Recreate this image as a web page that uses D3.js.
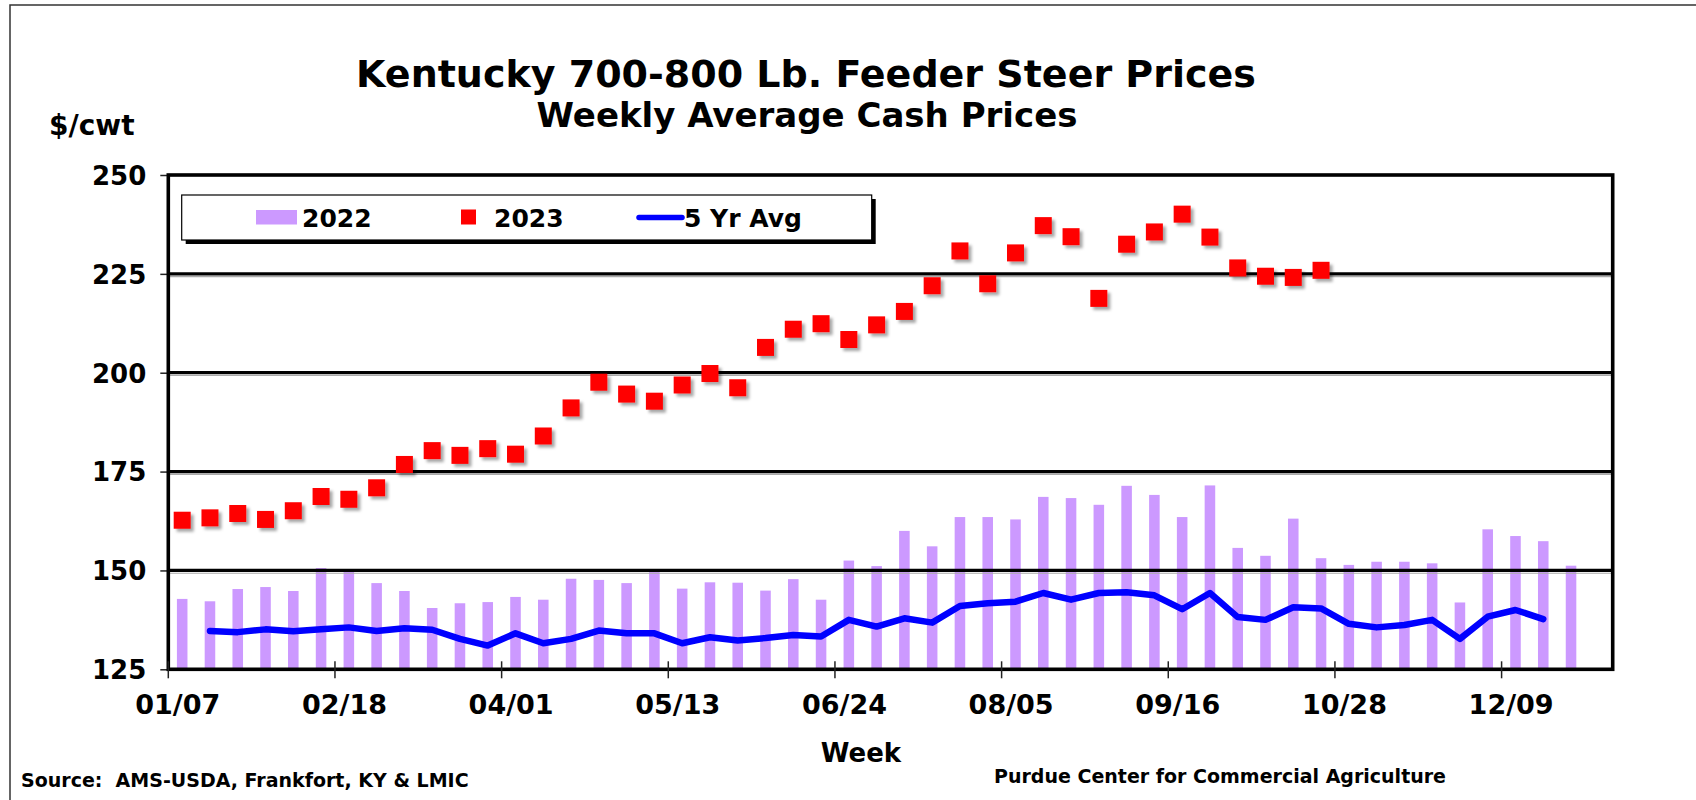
<!DOCTYPE html>
<html>
<head>
<meta charset="utf-8">
<script src="https://cdn.jsdelivr.net/npm/d3@7"></script>
<style>
	body { margin: 0; background: #fff; }
	text { font-family: "DejaVu Sans", Verdana, sans-serif; font-weight: bold; fill: #000; }
</style>
</head>
<body>
<script>
var width = 1696
var height = 800

var weeks = ['01/07','01/14','01/21','01/28','02/04','02/11','02/18','02/25','03/04','03/11',
			'03/18','03/25','04/01','04/08','04/15','04/22','04/29','05/06','05/13','05/20',
			'05/27','06/03','06/10','06/17','06/24','07/01','07/08','07/15','07/22','07/29',
			'08/05','08/12','08/19','08/26','09/02','09/09','09/16','09/23','09/30','10/07',
			'10/14','10/21','10/28','11/04','11/11','11/18','11/25','12/02','12/09','12/16',
			'12/23','12/30']

var weekTicks = ['01/07','02/18','04/01','05/13','06/24','08/05','09/16','10/28','12/09']
var priceTicks = [125, 150, 175, 200, 225, 250]

var prices2022 = [142.8, 142.2, 145.3, 145.8, 144.8, 150.6, 150.1, 146.8, 144.8, 140.5,
				141.7, 142.0, 143.3, 142.6, 147.9, 147.6, 146.8, 149.7, 145.4, 147.0,
				146.9, 144.9, 147.8, 142.6, 152.5, 151.1, 160.0, 156.1, 163.5, 163.5,
				162.9, 168.6, 168.3, 166.6, 171.4, 169.1, 163.5, 171.5, 155.7, 153.7,
				163.1, 153.1, 151.4, 152.2, 152.2, 151.8, 141.9, 160.4, 158.7, 157.4,
				151.2]

var prices2023 = [162.7, 163.3, 164.4, 162.9, 165.1, 168.7, 168.0, 170.9, 176.8, 180.3,
				179.1, 180.8, 179.4, 184.0, 191.1, 197.6, 194.6, 192.8, 196.9, 199.8,
				196.2, 206.4, 211.0, 212.4, 208.4, 212.1, 215.5, 222.0, 230.8, 222.5,
				230.3, 237.2, 234.4, 218.8, 232.5, 235.6, 240.1, 234.3, 226.5, 224.4,
				224.1, 225.9]

var avg5yr = [null, 134.7, 134.4, 135.1, 134.6, 135.1, 135.6, 134.7, 135.4, 135.0,
				132.7, 131.0, 134.1, 131.6, 132.7, 134.8, 134.1, 134.1, 131.6, 133.1,
				132.3, 132.9, 133.7, 133.3, 137.5, 135.8, 137.9, 136.8, 141.0, 141.7,
				142.1, 144.3, 142.6, 144.3, 144.5, 143.7, 140.2, 144.3, 138.2, 137.5,
				140.7, 140.4, 136.5, 135.6, 136.2, 137.5, 132.7, 138.3, 140.0, 137.7]

var plot = {left: 168.3, right: 1612.7, top: 175, bottom: 669.3}

var svg = d3.select('body')
			.append('svg')
			.attr('width', width)
			.attr('height', height)

var defs = svg.append('defs')
defs.append('filter')
	.attr('id', 'shadow')
	.attr('x', '-30%').attr('y', '-30%')
	.attr('width', '180%').attr('height', '180%')
	.append('feDropShadow')
		.attr('dx', 3)
		.attr('dy', 3)
		.attr('stdDeviation', 1.6)
		.attr('flood-color', '#000')
		.attr('flood-opacity', 0.35)

// outer frame
svg.append('path')
	.attr('d', 'M10,' + height + 'V5H' + width)
	.attr('fill', 'none')
	.attr('stroke', '#333')
	.attr('stroke-width', 1.5)

var x = d3.scaleBand()
			.domain(weeks)
			.range([plot.left, plot.right])
			.padding(0)
var step = x.step()

var y = d3.scaleLinear()
			.domain([125, 250])
			.range([plot.bottom, plot.top])

// titles
svg.append('text')
	.attr('x', 806).attr('y', 87)
	.attr('text-anchor', 'middle')
	.style('font-size', '38px')
	.text('Kentucky 700-800 Lb. Feeder Steer Prices')
svg.append('text')
	.attr('x', 807).attr('y', 127)
	.attr('text-anchor', 'middle')
	.style('font-size', '34px')
	.text('Weekly Average Cash Prices')
svg.append('text')
	.attr('x', 49).attr('y', 135)
	.style('font-size', '28px')
	.text('$/cwt')

// y axis
var yAxis = svg.append('g')
			.attr('transform', 'translate(' + plot.left + ',0)')
			.call(d3.axisLeft(y).tickValues(priceTicks).tickSize(8).tickPadding(14))
yAxis.select('.domain').remove()
yAxis.selectAll('.tick line').attr('stroke', '#222').attr('stroke-width', 1.5)
yAxis.selectAll('.tick text').style('font-size', '26px').attr('dy', '0.36em')

// bars 2022
svg.append('g')
	.selectAll('rect')
	.data(prices2022)
	.enter()
	.append('rect')
	.attr('x', function(d, i){ return x(weeks[i]) + step * 0.31 })
	.attr('width', step * 0.38)
	.attr('y', function(d){ return y(d) })
	.attr('height', function(d){ return y(125) - y(d) })
	.attr('fill', '#cc99ff')

// gridlines
var grid = svg.append('g')
			.selectAll('g')
			.data(priceTicks.slice(1, 5))
			.enter()
			.append('g')
grid.append('line')
	.attr('x1', plot.left).attr('x2', plot.right)
	.attr('y1', function(d){ return y(d) + 2.8 })
	.attr('y2', function(d){ return y(d) + 2.8 })
	.attr('stroke', '#aaa')
	.attr('stroke-width', 1.2)
grid.append('line')
	.attr('x1', plot.left).attr('x2', plot.right)
	.attr('y1', function(d){ return y(d) })
	.attr('y2', function(d){ return y(d) })
	.attr('stroke', '#000')
	.attr('stroke-width', 3.2)

// plot border
svg.append('rect')
	.attr('x', plot.left).attr('y', plot.top)
	.attr('width', plot.right - plot.left)
	.attr('height', plot.bottom - plot.top)
	.attr('fill', 'none')
	.attr('stroke', '#000')
	.attr('stroke-width', 3.6)

// x axis
var xAxis = svg.append('g')
			.attr('transform', 'translate(0,' + plot.bottom + ')')
			.call(d3.axisBottom(x).tickValues(weekTicks).tickSize(0).tickPadding(0))
xAxis.select('.domain').remove()
xAxis.selectAll('.tick line').remove()
xAxis.selectAll('.tick')
	.append('line')
	.attr('x1', -step / 2).attr('x2', -step / 2)
	.attr('y1', -8).attr('y2', 9)
	.attr('stroke', '#222')
	.attr('stroke-width', 1.5)
xAxis.selectAll('.tick text')
	.attr('x', -step / 2 + 9.5)
	.attr('y', 45)
	.attr('dy', 0)
	.style('font-size', '27px')

svg.append('text')
	.attr('x', 861).attr('y', 762)
	.attr('text-anchor', 'middle')
	.style('font-size', '26px')
	.text('Week')

// 5 yr avg line
var line = d3.line()
			.defined(function(d){ return d !== null })
			.x(function(d, i){ return x(weeks[i]) + step / 2 })
			.y(function(d){ return y(d) })

svg.append('path')
	.datum(avg5yr)
	.attr('d', line)
	.attr('fill', 'none')
	.attr('stroke', '#0000ff')
	.attr('stroke-width', 6.5)
	.attr('stroke-linejoin', 'round')
	.attr('stroke-linecap', 'round')

// 2023 squares
var sq = 17
svg.append('g')
	.attr('filter', 'url(#shadow)')
	.selectAll('rect')
	.data(prices2023)
	.enter()
	.append('rect')
	.attr('x', function(d, i){ return x(weeks[i]) + step / 2 - sq / 2 })
	.attr('y', function(d){ return y(d) - sq / 2 })
	.attr('width', sq)
	.attr('height', sq)
	.attr('fill', '#ff0000')

// legend
var legend = svg.append('g')
legend.append('rect')
	.attr('x', 185.7).attr('y', 199)
	.attr('width', 690).attr('height', 45)
	.attr('fill', '#000')
legend.append('rect')
	.attr('x', 181.7).attr('y', 195)
	.attr('width', 690).attr('height', 45)
	.attr('fill', '#fff')
	.attr('stroke', '#000')
	.attr('stroke-width', 1.2)
legend.append('rect')
	.attr('x', 256).attr('y', 210)
	.attr('width', 41).attr('height', 14.5)
	.attr('fill', '#cc99ff')
legend.append('text')
	.attr('x', 302).attr('y', 226.5)
	.style('font-size', '25px')
	.text('2022')
legend.append('rect')
	.attr('x', 461).attr('y', 209.5)
	.attr('width', 15).attr('height', 15)
	.attr('fill', '#ff0000')
legend.append('text')
	.attr('x', 494).attr('y', 226.5)
	.style('font-size', '25px')
	.text('2023')
legend.append('line')
	.attr('x1', 639).attr('x2', 682)
	.attr('y1', 217.5).attr('y2', 217.5)
	.attr('stroke', '#0000ff')
	.attr('stroke-width', 5.5)
	.attr('stroke-linecap', 'round')
legend.append('text')
	.attr('x', 684).attr('y', 226.5)
	.style('font-size', '25px')
	.text('5 Yr Avg')

// footer
svg.append('text')
	.attr('x', 21).attr('y', 787)
	.style('font-size', '19px')
	.style('white-space', 'pre')
	.text('Source:\u00a0\u00a0AMS-USDA, Frankfort, KY & LMIC')
svg.append('text')
	.attr('x', 994).attr('y', 783)
	.style('font-size', '19px')
	.text('Purdue Center for Commercial Agriculture')
</script>
</body>
</html>
